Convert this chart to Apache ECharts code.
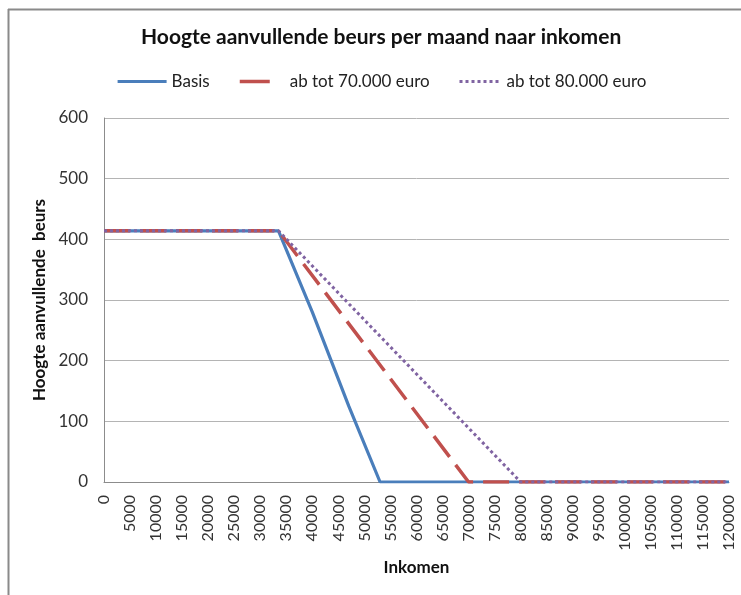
<!DOCTYPE html>
<html>
<head>
<meta charset="utf-8">
<script src="https://cdn.jsdelivr.net/npm/echarts@6/dist/echarts.min.js"></script>
<style>
html,body{margin:0;padding:0;background:#fff;}
#chart{width:741px;height:595px;}
</style>
</head>
<body>
<div id="chart"></div>
<script>
// Data
const seriesNames = ['Basis', 'ab tot 70.000 euro', 'ab tot 80.000 euro'];
const basisIncome = [0, 33500, 40000, 47000, 53000, 120000];
const basisValue  = [414, 414, 280, 125, 0, 0];
const tot70Income = [0, 33500, 70000, 120000];
const tot70Value  = [414, 414, 0, 0];
const tot80Income = [0, 33500, 80000, 120000];
const tot80Value  = [414, 414, 0, 0];
const yTicks = [0, 100, 200, 300, 400, 500, 600];
const xMin = 0, xMax = 120000, xStep = 5000;

function pairs(xs, ys) { return xs.map((x, i) => [x, ys[i]]); }

const FONT = 'Lato';
const chart = echarts.init(document.getElementById('chart'), null, {renderer: 'canvas'});
const hideSym = {color: 'rgba(0,0,0,0)', borderWidth: 0, opacity: 0};
const legendBase = {
  orient: 'horizontal', top: 68, itemHeight: 14, itemGap: 0, itemWidth: 49,
  textStyle: {fontFamily: FONT, fontSize: 17, color: '#222'},
  selectedMode: false
};
chart.setOption({
  animation: false,
  backgroundColor: '#fff',
  title: {
    text: 'Hoogte aanvullende beurs per maand naar inkomen',
    left: 136, top: 22,
    textStyle: {fontFamily: FONT, fontSize: 21, fontWeight: 'bold', color: '#111'}
  },
  legend: [
    Object.assign({}, legendBase, {left: 111, data: [{name: seriesNames[0], itemStyle: hideSym, lineStyle: {width: 3.2}}]}),
    Object.assign({}, legendBase, {left: 229, data: [{name: seriesNames[1], itemStyle: hideSym, lineStyle: {type: [0, 4, 30, 100], width: 3.5}}]}),
    Object.assign({}, legendBase, {left: 446, data: [{name: seriesNames[2], itemStyle: hideSym, lineStyle: {type: [0, 7, 3, 3, 3, 3, 3, 3, 3, 3, 3, 3, 3, 3, 3, 3, 3, 40], width: 3}}]})
  ],
  grid: {left: 104, right: 12, top: 118, bottom: 113, containLabel: false},
  xAxis: {
    type: 'value', min: xMin, max: xMax, interval: xStep,
    name: 'Inkomen', nameLocation: 'middle', nameGap: 76,
    nameTextStyle: {fontFamily: FONT, fontSize: 17, fontWeight: 'bold', color: '#111'},
    axisLine: {show: true, lineStyle: {color: '#8c8c8c', width: 1}},
    axisTick: {show: false},
    splitLine: {show: false},
    axisLabel: {rotate: 90, margin: 13, fontFamily: FONT, fontSize: 16, color: '#333',
      formatter: v => String(v)}
  },
  yAxis: {
    type: 'value', min: yTicks[0], max: yTicks[yTicks.length - 1], interval: yTicks[1] - yTicks[0],
    name: 'Hoogte aanvullende  beurs', nameLocation: 'middle', nameGap: 47,
    nameTextStyle: {fontFamily: FONT, fontSize: 17, fontWeight: 'bold', color: '#111'},
    axisLine: {show: true, lineStyle: {color: '#8c8c8c', width: 1}},
    axisTick: {show: false},
    splitLine: {show: true, lineStyle: {color: '#b4b4b4', width: 1}},
    axisLabel: {margin: 16, fontFamily: FONT, fontSize: 17, color: '#333'}
  },
  series: [
    {name: seriesNames[0], type: 'line', symbol: 'none', showSymbol: false,
     data: pairs(basisIncome, basisValue),
     lineStyle: {color: '#4a7ebb', width: 3.2}, itemStyle: {color: '#4a7ebb'}},
    {name: seriesNames[1], type: 'line', symbol: 'none', showSymbol: false,
     data: pairs(tot70Income, tot70Value),
     lineStyle: {color: '#c0504d', width: 3.5, type: [26, 10]}, itemStyle: {color: '#c0504d'}},
    {name: seriesNames[2], type: 'line', symbol: 'none', showSymbol: false,
     data: pairs(tot80Income, tot80Value),
     lineStyle: {color: '#8064a2', width: 3, type: [3, 3]}, itemStyle: {color: '#8064a2'}}
  ],
  graphic: [
    {type: 'line', shape: {x1: 8, y1: 9.5, x2: 741, y2: 9.5}, style: {stroke: '#8a8a8a', lineWidth: 2}, silent: true},
    {type: 'line', shape: {x1: 8.5, y1: 9, x2: 8.5, y2: 595}, style: {stroke: '#8a8a8a', lineWidth: 2}, silent: true}
  ]
});
</script>
</body>
</html>
